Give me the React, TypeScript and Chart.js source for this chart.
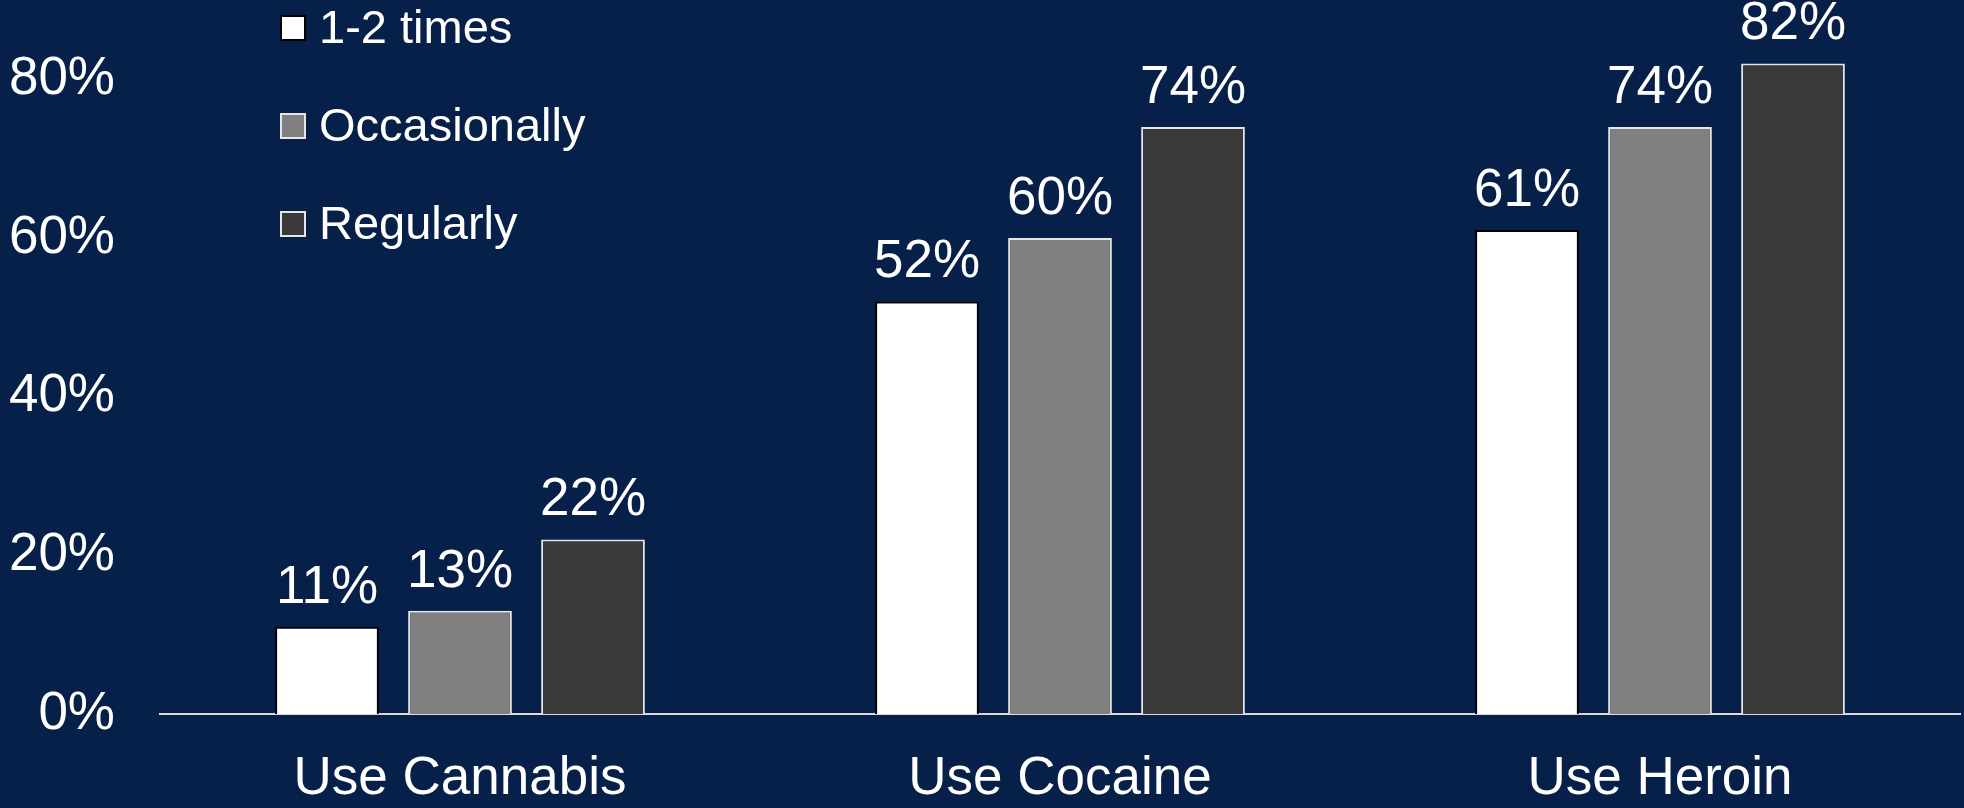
import React, { useEffect, useRef } from "react";
import { Chart, registerables } from "chart.js";

Chart.register(...registerables);

const categories = ["Use Cannabis", "Use Cocaine", "Use Heroin"];
const seriesLabels = ["1-2 times", "Occasionally", "Regularly"];
const onceOrTwice = [11, 52, 61];
const occasionally = [13, 60, 74];
const regularly = [22, 74, 82];
const yTicks = [0, 20, 40, 60, 80];

const BG = "#06204A";
const FONT = "'Liberation Sans', Arial, sans-serif";

const bgPlugin = {
  id: "bg",
  beforeDraw(chart: any) {
    const { ctx, width, height } = chart;
    ctx.save();
    ctx.fillStyle = BG;
    ctx.fillRect(0, 0, width, height);
    ctx.restore();
  },
};

const valueLabels = {
  id: "valueLabels",
  afterDatasetsDraw(chart: any) {
    const { ctx } = chart;
    ctx.save();
    ctx.fillStyle = "#ffffff";
    ctx.font = `53px ${FONT}`;
    ctx.textAlign = "center";
    ctx.textBaseline = "alphabetic";
    chart.data.datasets.forEach((ds: any, i: number) => {
      const meta = chart.getDatasetMeta(i);
      meta.data.forEach((bar: any, j: number) => {
        ctx.fillText(`${ds.data[j]}%`, bar.x, bar.y - 24);
      });
    });
    ctx.restore();
  },
};

const customLegend = {
  id: "customLegend",
  afterDraw(chart: any) {
    const { ctx } = chart;
    ctx.save();
    ctx.font = `47px ${FONT}`;
    ctx.textBaseline = "middle";
    ctx.textAlign = "left";
    const x0 = 281;
    const rowY = [28, 126, 224];
    chart.data.datasets.forEach((ds: any, i: number) => {
      const y = rowY[i];
      ctx.fillStyle = ds.backgroundColor;
      ctx.fillRect(x0, y - 12, 24, 24);
      ctx.lineWidth = 2;
      ctx.strokeStyle = ds.borderColor;
      ctx.strokeRect(x0, y - 12, 24, 24);
      ctx.fillStyle = "#ffffff";
      ctx.fillText(ds.label, 319, y + 2);
    });
    ctx.restore();
  },
};

export default function App() {
  const ref = useRef<HTMLCanvasElement | null>(null);
  useEffect(() => {
    document.body.style.margin = "0";
    document.body.style.background = BG;
    const chart = new Chart(ref.current as HTMLCanvasElement, {
      type: "bar",
      data: {
        labels: categories,
        datasets: [
          { label: seriesLabels[0], data: onceOrTwice, backgroundColor: "#ffffff", borderColor: "#000000", borderWidth: 2 },
          { label: seriesLabels[1], data: occasionally, backgroundColor: "#808080", borderColor: "#e6e6e6", borderWidth: 2 },
          { label: seriesLabels[2], data: regularly, backgroundColor: "#3a3a3a", borderColor: "#e6e6e6", borderWidth: 2 },
        ],
      },
      options: {
        animation: false,
        responsive: false,
        maintainAspectRatio: false,
        layout: { padding: { left: 0, right: 4, top: 0, bottom: 0 } },
        datasets: { bar: { categoryPercentage: 0.665, barPercentage: 0.78 } },
        plugins: { legend: { display: false }, tooltip: { enabled: false } },
        scales: {
          x: {
            grid: { display: false },
            border: { display: true, color: "#d9d9d9", width: 2 },
            ticks: { color: "#ffffff", font: { family: FONT, size: 53 }, padding: 26, maxRotation: 0 },
            afterFit(scale: any) {
              scale.height = 94;
              scale.paddingLeft = 0;
              scale.paddingRight = 0;
            },
          },
          y: {
            min: 0,
            max: 90,
            grid: { display: false },
            border: { display: false },
            ticks: {
              color: "#ffffff",
              font: { family: FONT, size: 53 },
              padding: 37,
              callback: (v: any) => `${v}%`,
            },
            afterBuildTicks(scale: any) {
              scale.ticks = yTicks.map((v) => ({ value: v }));
            },
            afterFit(scale: any) {
              scale.width = 160;
              scale.paddingTop = 0;
              scale.paddingBottom = 0;
            },
          },
        },
      } as any,
      plugins: [bgPlugin, valueLabels, customLegend],
    });
    return () => chart.destroy();
  }, []);
  return (
    <div style={{ position: "absolute", left: 0, top: 0, width: 1964, height: 808 }}>
      <canvas ref={ref} width={1964} height={808} style={{ width: 1964, height: 808, display: "block" }} />
    </div>
  );
}
